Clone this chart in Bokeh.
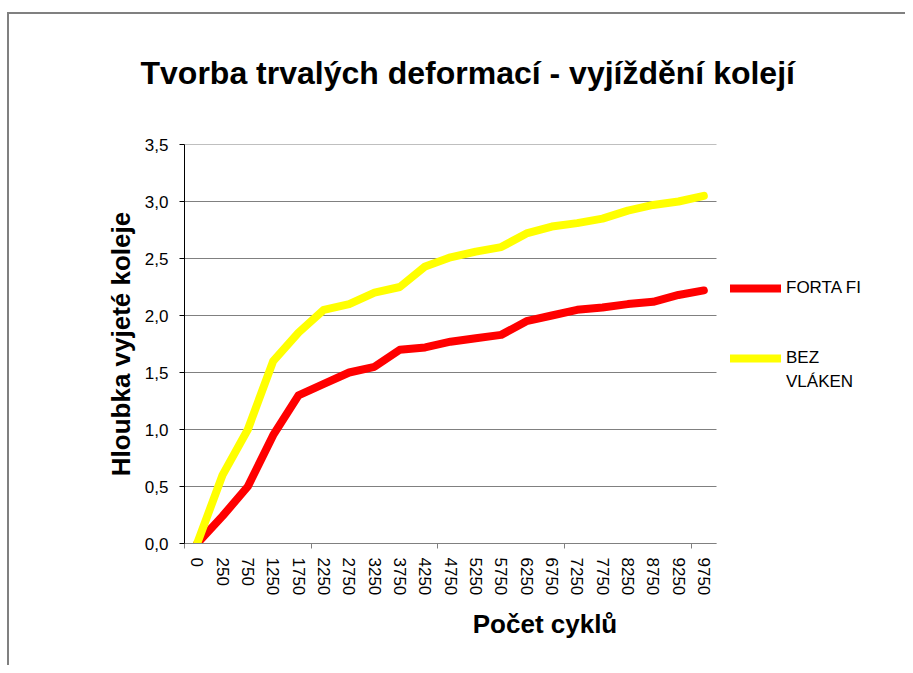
import numpy as np
from bokeh.plotting import figure
from bokeh.models import (Range1d, FixedTicker, LinearAxis, Legend, LegendItem,
                          InlineStyleSheet)
from bokeh.embed import file_html
from bokeh.resources import INLINE

# ---- data ----
cycles = ["0", "250", "750", "1250", "1750", "2250", "2750", "3250", "3750", "4250",
          "4750", "5250", "5750", "6250", "6750", "7250", "7750", "8250", "8750",
          "9250", "9750"]
forta_fi = [0.0, 0.24, 0.50, 0.95, 1.30, 1.40, 1.50, 1.55, 1.70, 1.72,
            1.77, 1.80, 1.83, 1.95, 2.00, 2.05, 2.07, 2.10, 2.12, 2.18, 2.22]
bez_vlaken = [0.0, 0.60, 1.00, 1.60, 1.85, 2.05, 2.10, 2.20, 2.25, 2.43,
              2.51, 2.56, 2.60, 2.72, 2.78, 2.81, 2.85, 2.92, 2.97, 3.00, 3.05]
y_ticks = [0.0, 0.5, 1.0, 1.5, 2.0, 2.5, 3.0, 3.5]
y_tick_labels = ["0,0", "0,5", "1,0", "1,5", "2,0", "2,5", "3,0", "3,5"]
x_tick_every = 5

FONT = "Liberation Sans"
GRAY = "#808080"

W, H = 905, 665
FRAME_L, FRAME_T, FRAME_B = 184, 144, 543
PLOT_R = 716  # right end of the category axis (pixels)

n = len(cycles)
x = np.arange(n) + 0.5
# frame runs to the right edge so the legend (outside the axes area) is visible
x_end = n * (W - FRAME_L) / (PLOT_R - FRAME_L)

p = figure(width=W, height=H, output_backend="svg", toolbar_location=None,
           x_range=Range1d(0, x_end), y_range=Range1d(0, 3.5),
           x_axis_type=None, y_axis_type=None,
           min_border_left=FRAME_L, min_border_right=0,
           min_border_top=FRAME_T, min_border_bottom=H - FRAME_B)
p.outline_line_color = None
p.background_fill_color = "white"
p.border_fill_color = "white"
p.xgrid.visible = False
p.ygrid.visible = False

# outer chart-area border (left and top edges)
p.stylesheets = [InlineStyleSheet(css="""
:host { position: relative; }
:host::after { content: ''; position: absolute; left: 7px; top: 12px; right: 0; bottom: 0;
  border-left: 2px solid #808080; border-top: 2px solid #808080;
  pointer-events: none; z-index: 100; }
""")]

# title
p.title.text = "Tvorba trvalých deformací - vyjíždění kolejí"
p.title.align = "left"
p.title.vertical_align = "top"
p.title.offset = -44
p.title.text_font = FONT
p.title.text_font_size = "32px"
p.title.text_font_style = "bold"
p.title.text_color = "black"
p.title.standoff = 103

# y axis
yaxis = LinearAxis(ticker=FixedTicker(ticks=y_ticks, minor_ticks=[]),
                   major_label_overrides={t: l for t, l in zip(y_ticks, y_tick_labels)},
                   axis_label="Hloubka vyjeté koleje",
                   axis_label_text_font=FONT, axis_label_text_font_size="26px",
                   axis_label_text_font_style="bold", axis_label_text_color="black",
                   axis_label_standoff=6,
                   major_label_text_font=FONT, major_label_text_font_size="17px",
                   major_label_text_color="black", major_label_standoff=11,
                   axis_line_color="black", major_tick_line_color="black",
                   major_tick_in=0, major_tick_out=5, minor_tick_line_color=None)
p.add_layout(yaxis, "left")

# horizontal gridlines, limited to the category span
p.segment(x0=[0] * len(y_ticks), x1=[n] * len(y_ticks), y0=y_ticks, y1=y_ticks,
          line_color=GRAY, line_width=1)

# x axis: category labels at centres, tick marks between groups of categories
xaxis = LinearAxis(ticker=FixedTicker(ticks=list(x),
                                      minor_ticks=list(range(0, n, x_tick_every))),
                   bounds=(0, n),
                   major_label_overrides={float(xi): c for xi, c in zip(x, cycles)},
                   major_label_orientation="vertical",
                   major_label_text_font=FONT, major_label_text_font_size="17px",
                   major_label_text_color="black", major_label_standoff=9,
                   axis_line_color=GRAY, major_tick_line_color=None,
                   major_tick_in=0, major_tick_out=0,
                   minor_tick_line_color=GRAY, minor_tick_in=0, minor_tick_out=5,
                   axis_label="Počet cyklů",
                   axis_label_text_font=FONT, axis_label_text_font_size="26px",
                   axis_label_text_font_style="bold", axis_label_text_color="black",
                   axis_label_standoff=11)
p.add_layout(xaxis, "below")

# lines
r1 = p.line(x, forta_fi, line_color="#FF0000", line_width=8,
            line_cap="round", line_join="round")
r2 = p.line(x, bez_vlaken, line_color="#FFFF00", line_width=8,
            line_cap="round", line_join="round")
r_blank = p.line([], [], line_alpha=0)

common = dict(padding=0, margin=0, border_line_color=None, background_fill_alpha=0,
              glyph_width=51, glyph_height=10, label_standoff=5,
              label_text_font=FONT, label_text_font_size="17px",
              label_text_color="black", spacing=0)
leg1 = Legend(items=[LegendItem(label="FORTA FI", renderers=[r1])],
              location=(546, 244), label_height=22, **common)
leg2 = Legend(items=[LegendItem(label="BEZ", renderers=[r2]),
                     LegendItem(label="VLÁKEN", renderers=[r_blank])],
              location=(546, 149), label_height=24, **common)
p.add_layout(leg1, "center")
p.add_layout(leg2, "center")

open("out.html", "w").write(file_html(p, INLINE))
